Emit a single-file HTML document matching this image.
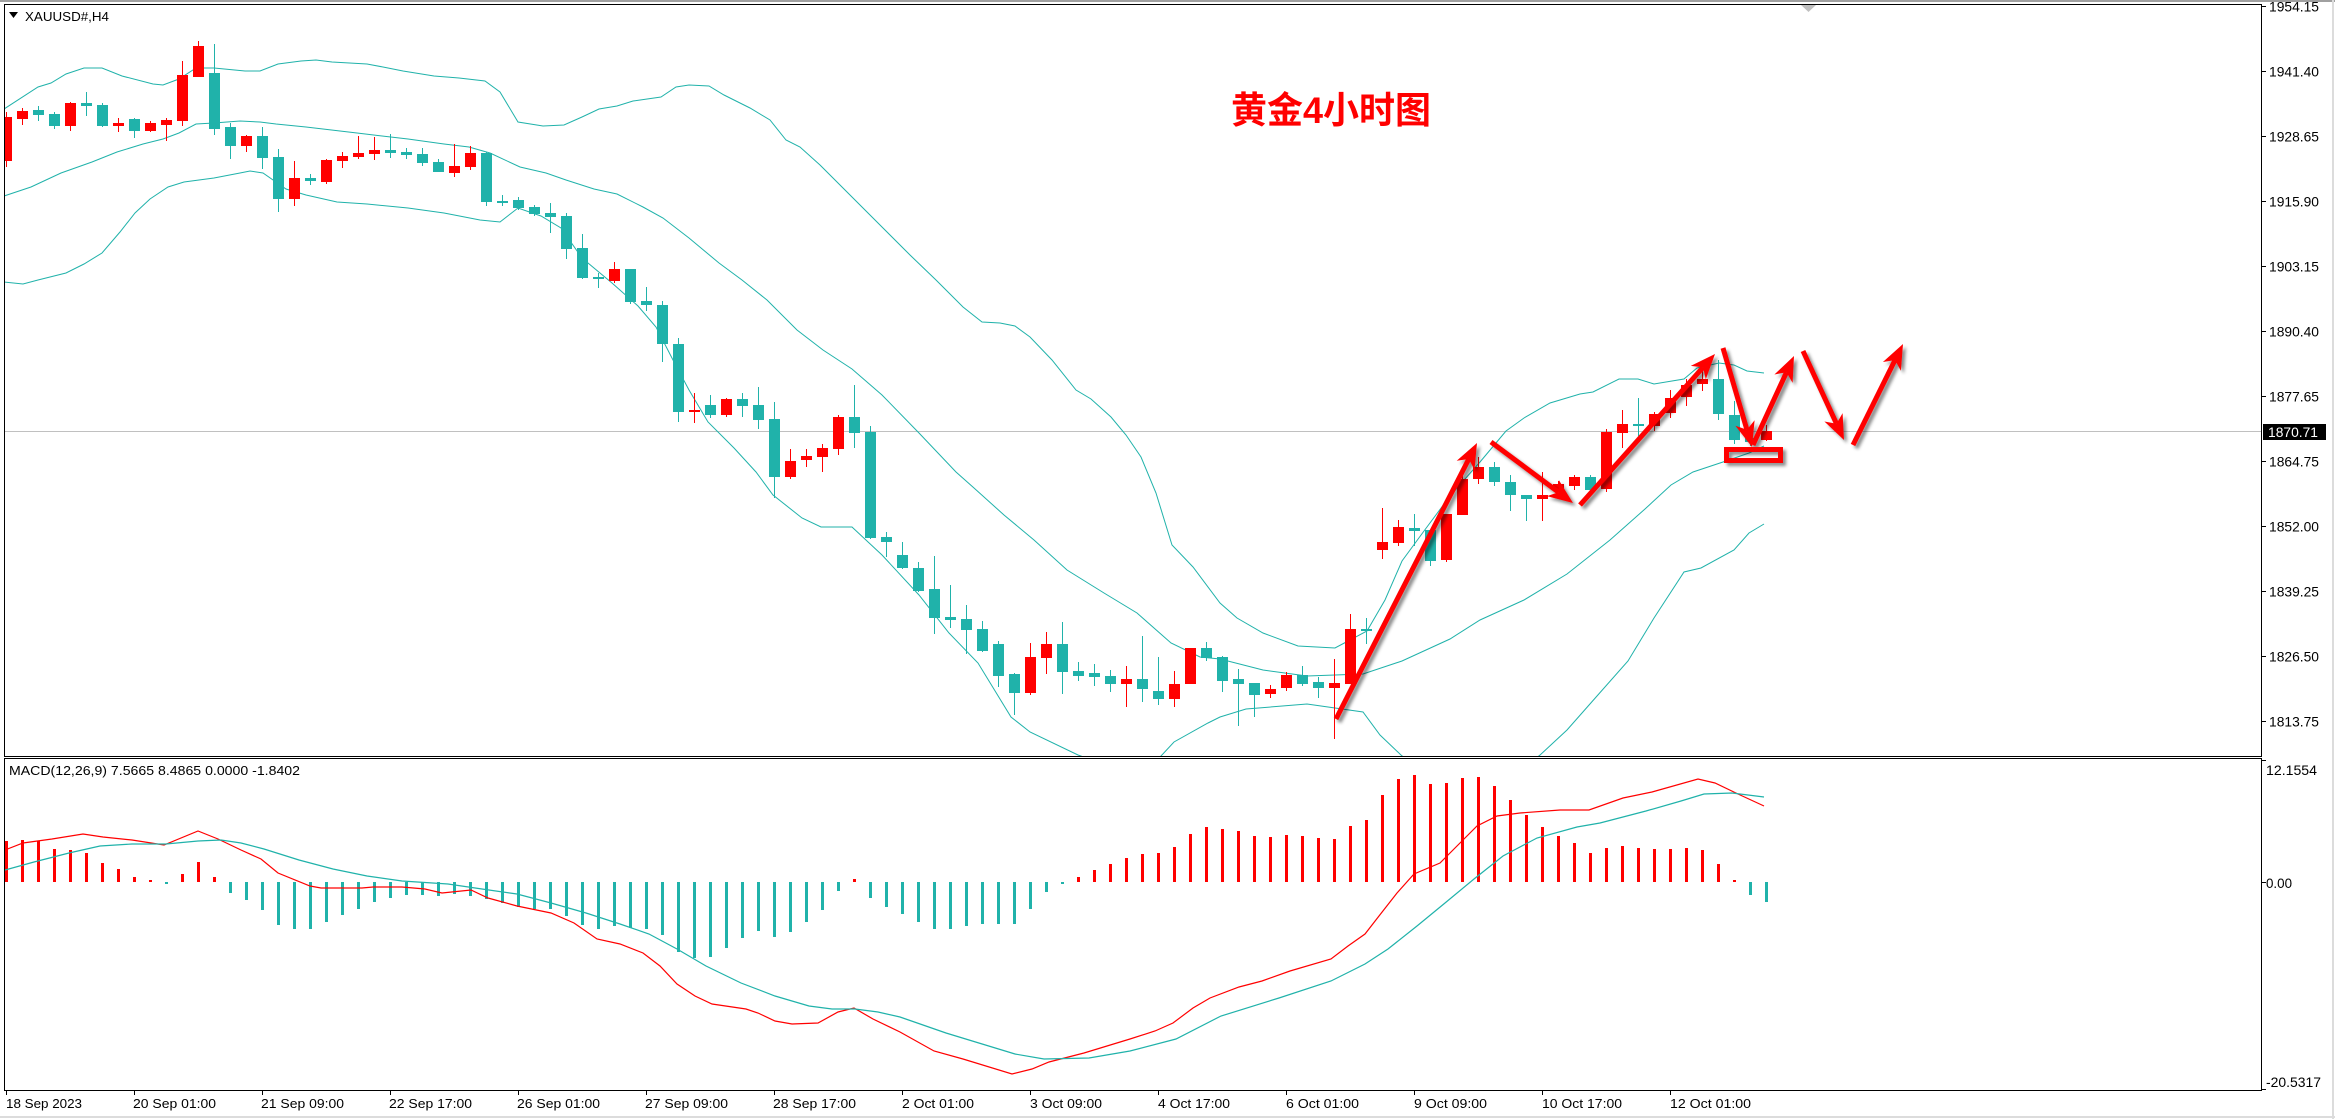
<!DOCTYPE html>
<html><head><meta charset="utf-8">
<style>
html,body{margin:0;padding:0;background:#fff;}
svg{display:block;}
</style></head>
<body>
<svg width="2335" height="1119" viewBox="0 0 2335 1119" xmlns="http://www.w3.org/2000/svg">
<defs>
<clipPath id="cm"><rect x="5" y="5" width="2256" height="751"/></clipPath>
<clipPath id="cd"><rect x="5" y="759" width="2256" height="331"/></clipPath>
<filter id="sh" x="-20%" y="-20%" width="140%" height="140%"><feDropShadow dx="3" dy="3" stdDeviation="1.5" flood-color="#000" flood-opacity="0.45"/></filter>
</defs>
<rect x="0" y="0" width="2335" height="1119" fill="#fff"/>
<rect x="0" y="0" width="2335" height="2" fill="#a0a0a0"/>
<rect x="2332" y="0" width="2" height="1119" fill="#dcdcdc"/>
<rect x="0" y="1116" width="2335" height="2" fill="#dcdcdc"/>
<polygon points="1801,5 1816,5 1808.5,12" fill="#c0c0c0"/>

<!-- frames -->
<rect x="4.5" y="4.5" width="2257" height="752" fill="none" stroke="#000" stroke-width="1"/>
<rect x="4.5" y="758.5" width="2257" height="332" fill="none" stroke="#000" stroke-width="1"/>

<g clip-path="url(#cm)">
<line x1="5" y1="431.5" x2="2261" y2="431.5" stroke="#c0c0c0" stroke-width="1"/>
<g fill="none" stroke="#20b2aa" stroke-width="1">
<polyline points="4,109 38,87 51,83 66,74 84,68 102,68 122,76 153,84 163,85 179,79 196,68 214,68 245,71 260,71 278,64 301,61 316,60 332,62 367,64 383,67 403,71 434,76 459,78 485,81 500,92 518,122 543,126 564,125 582,117 599,109 617,106 633,101 661,97 676,87 689,85 709,86 724,95 750,108 770,120 786,140 800,147 820,165 850,195 880,225 910,255 936,280 963,307 982,322 1000,323 1015,326 1030,337 1052,360 1076,390 1091,399 1111,417 1126,435 1141,457 1156,493 1172,545 1193,567 1220,603 1237,618 1263,633 1298,646 1335,648 1350,640 1367,631 1385,600 1402,561 1424,531 1450,496 1480,462 1506,431 1524,418 1550,403 1580,394 1593,392 1619,379 1638,379 1654,384 1684,379 1697,368 1719,363 1734,365 1747,371 1764,373"/>
<polyline points="4,196 31,187 61,173 92,162 117,152 143,144 163,139 179,133 196,124 214,123 240,121 260,122 276,124 306,127 357,133 408,139 444,144 469,147 490,153 520,167 546,173 566,180 594,189 617,194 643,207 663,218 689,238 719,263 742,280 767,300 797,330 823,350 852,369 882,395 919,433 956,472 974,488 1004,515 1034,540 1067,570 1104,593 1137,613 1171,643 1200,657 1220,659 1263,670 1307,676 1363,674 1402,661 1450,639 1480,620 1524,600 1567,574 1610,540 1645,509 1671,485 1693,472 1723,462 1749,453 1764,446"/>
<polyline points="4,282 23,284 38,280 66,273 84,264 102,253 120,232 135,213 150,199 168,187 184,182 214,178 240,173 250,171 263,173 286,189 306,195 337,202 367,204 408,208 444,213 480,220 500,222 518,208 541,216 561,228 582,258 612,283 638,306 656,327 673,360 689,390 708,422 734,448 756,472 773,495 802,518 821,527 852,527 882,555 919,595 949,633 978,663 1011,717 1030,732 1078,755 1120,770 1150,765 1161,756 1174,742 1208,723 1220,717 1246,709 1307,704 1363,712 1380,735 1402,756 1470,790 1539,756 1567,730 1597,696 1628,661 1654,618 1684,572 1701,568 1734,550 1749,533 1764,524"/>
</g>
<g shape-rendering="crispEdges">
<path stroke="#20b2aa" stroke-width="1" fill="none" d="M38.5 106V121M54.5 112V129M86.5 92V116M102.5 103V127M134.5 118V138M214.5 44V135M230.5 123V159M262.5 127V169M278.5 149V212M310.5 174V185M390.5 134V158M406.5 148V159M422.5 148V166M438.5 159V172M486.5 152V206M502.5 195V206M518.5 197V210M534.5 205V216M550.5 203V233M566.5 213V259M582.5 234V279M598.5 273V288M630.5 269V304M646.5 287V311M662.5 301V362M678.5 338V422M710.5 395V418M742.5 393V417M758.5 387V429M774.5 402V498M854.5 385V448M870.5 426V539M886.5 532V557M902.5 542V569M918.5 562V592M934.5 556V634M950.5 585V628M966.5 605V654M982.5 621V652M998.5 641V687M1014.5 673V715M1062.5 622V694M1078.5 662V681M1094.5 664V686M1110.5 670V692M1142.5 636V702M1158.5 657V705M1206.5 642V661M1222.5 656V692M1238.5 669V726M1254.5 683V717M1302.5 666V686M1318.5 677V698M1366.5 618V644M1414.5 514V546M1430.5 530V566M1494.5 462V486M1510.5 475V511M1526.5 495V521M1590.5 475V490M1638.5 398V436M1718.5 360V420M1734.5 401V444M1750.5 430V446"/>
<path fill="#20b2aa" d="M33 110h11v5h-11zM49 114h11v12h-11zM81 103h11v3h-11zM97 105h11v21h-11zM129 119h11v12h-11zM209 73h11v56h-11zM225 127h11v19h-11zM257 136h11v22h-11zM273 157h11v42h-11zM305 178h11v3h-11zM385 150h11v3h-11zM401 152h11v3h-11zM417 154h11v9h-11zM433 162h11v10h-11zM481 153h11v49h-11zM497 201h11v2h-11zM513 200h11v8h-11zM529 207h11v7h-11zM545 213h11v4h-11zM561 216h11v33h-11zM577 248h11v30h-11zM593 277h11v2h-11zM625 269h11v33h-11zM641 301h11v4h-11zM657 305h11v39h-11zM673 344h11v68h-11zM705 405h11v10h-11zM737 399h11v7h-11zM753 405h11v15h-11zM769 419h11v58h-11zM849 417h11v16h-11zM865 432h11v106h-11zM881 537h11v5h-11zM897 555h11v13h-11zM913 568h11v23h-11zM929 589h11v29h-11zM945 617h11v3h-11zM961 619h11v11h-11zM977 629h11v22h-11zM993 644h11v32h-11zM1009 674h11v19h-11zM1057 644h11v28h-11zM1073 671h11v5h-11zM1089 673h11v4h-11zM1105 676h11v8h-11zM1137 679h11v10h-11zM1153 691h11v8h-11zM1201 648h11v10h-11zM1217 657h11v24h-11zM1233 679h11v5h-11zM1249 683h11v12h-11zM1297 675h11v9h-11zM1313 682h11v6h-11zM1361 629h11v2h-11zM1409 528h11v3h-11zM1425 530h11v31h-11zM1489 467h11v15h-11zM1505 482h11v13h-11zM1521 495h11v4h-11zM1585 477h11v13h-11zM1633 424h11v2h-11zM1713 379h11v35h-11zM1729 415h11v25h-11zM1745 438h11v4h-11z"/>
<path stroke="#ff0000" stroke-width="1" fill="none" d="M6.5 112V167M22.5 108V125M70.5 102V131M118.5 118V132M150.5 121V132M166.5 118V141M182.5 61V126M198.5 41V77M246.5 135V152M294.5 161V206M326.5 159V184M342.5 152V168M358.5 136V159M374.5 137V160M454.5 144V177M470.5 146V170M614.5 262V283M694.5 393V423M726.5 398V417M790.5 449V479M806.5 449V467M822.5 444V472M838.5 415V455M1030.5 643V695M1046.5 632V674M1126.5 666V707M1174.5 671V707M1270.5 685V698M1286.5 672V691M1334.5 659V739M1350.5 614V684M1382.5 508V559M1398.5 520V546M1446.5 514V562M1462.5 470V515M1478.5 457V484M1542.5 472V521M1558.5 481V492M1574.5 475V490M1606.5 429V492M1622.5 410V448M1654.5 412V431M1670.5 390V418M1686.5 379V406M1702.5 371V391M1766.5 425V441"/>
<path fill="#ff0000" d="M1 117h11v44h-11zM17 111h11v8h-11zM65 103h11v23h-11zM113 123h11v3h-11zM145 123h11v8h-11zM161 120h11v5h-11zM177 75h11v46h-11zM193 46h11v31h-11zM241 136h11v10h-11zM289 178h11v21h-11zM321 160h11v22h-11zM337 156h11v5h-11zM353 153h11v4h-11zM369 150h11v4h-11zM449 166h11v7h-11zM465 153h11v14h-11zM609 269h11v12h-11zM689 410h11v2h-11zM721 399h11v16h-11zM785 461h11v16h-11zM801 456h11v4h-11zM817 448h11v9h-11zM833 417h11v32h-11zM1025 657h11v36h-11zM1041 644h11v14h-11zM1121 679h11v5h-11zM1169 684h11v15h-11zM1185 648h11v36h-11zM1265 689h11v5h-11zM1281 675h11v13h-11zM1329 683h11v5h-11zM1345 629h11v55h-11zM1377 542h11v8h-11zM1393 527h11v16h-11zM1441 514h11v46h-11zM1457 479h11v36h-11zM1473 467h11v12h-11zM1537 495h11v4h-11zM1553 484h11v6h-11zM1569 477h11v9h-11zM1601 432h11v57h-11zM1617 424h11v9h-11zM1649 414h11v12h-11zM1665 398h11v15h-11zM1681 385h11v12h-11zM1697 379h11v5h-11zM1761 431h11v9h-11z"/>
</g>

<!-- annotations -->
<g filter="url(#sh)">
<g stroke="#ff0000" stroke-width="5" fill="none" stroke-linecap="butt">
<line x1="1336" y1="719" x2="1468.8" y2="459"/>
<line x1="1491" y1="442" x2="1558.6" y2="492.3"/>
<line x1="1580" y1="505" x2="1703" y2="367.4"/>
<line x1="1723" y1="348" x2="1746.9" y2="429.7"/>
<line x1="1753" y1="445" x2="1786.5" y2="372.3"/>
<line x1="1803" y1="351" x2="1836.5" y2="423.7"/>
<line x1="1853" y1="445" x2="1895" y2="360.1"/>
</g>
<g fill="#ff0000">
<polygon points="1477,443 1474.5,469.8 1468.8,459 1456.7,460.8"/>
<polygon points="1573,503 1546.9,496.1 1558.6,492.3 1558.9,480.1"/>
<polygon points="1715,354 1705.8,379.3 1703,367.4 1690.8,365.9"/>
<polygon points="1752,447 1735.4,425.8 1746.9,429.7 1754.6,420.2"/>
<polygon points="1794,356 1792.6,382.9 1786.5,372.3 1774.4,374.5"/>
<polygon points="1844,440 1824.4,421.5 1836.5,423.7 1842.6,413.1"/>
<polygon points="1903,344 1900.9,370.8 1895,360.1 1882.9,362"/>
</g>
<rect x="1726.5" y="449.5" width="54" height="11" fill="none" stroke="#ff0000" stroke-width="5"/>
</g>
</g>

<text x="1231" y="123" font-family="'Liberation Sans','Noto Sans CJK SC',sans-serif" font-weight="bold" font-size="37" fill="#ff0000" textLength="200" lengthAdjust="spacingAndGlyphs">黄金4小时图</text>

<!-- header -->
<polygon points="9,12 18,12 13.5,18" fill="#000"/>
<text x="25" y="21" font-family="'Liberation Sans',sans-serif" font-size="13" fill="#000" textLength="84" lengthAdjust="spacingAndGlyphs">XAUUSD#,H4</text>

<!-- MACD -->
<g clip-path="url(#cd)">
<g shape-rendering="crispEdges">
<path fill="#ff0000" d="M5 841h3v41h-3zM21 840h3v42h-3zM37 841h3v41h-3zM53 849h3v33h-3zM69 850h3v32h-3zM85 853h3v29h-3zM101 863h3v19h-3zM117 869h3v13h-3zM133 877h3v5h-3zM149 880h3v2h-3zM181 874h3v8h-3zM197 862h3v20h-3zM213 877h3v5h-3zM853 879h3v3h-3zM1077 877h3v5h-3zM1093 870h3v12h-3zM1109 864h3v18h-3zM1125 858h3v24h-3zM1141 854h3v28h-3zM1157 853h3v29h-3zM1173 847h3v35h-3zM1189 834h3v48h-3zM1205 827h3v55h-3zM1221 829h3v53h-3zM1237 831h3v51h-3zM1253 836h3v46h-3zM1269 837h3v45h-3zM1285 835h3v47h-3zM1301 836h3v46h-3zM1317 838h3v44h-3zM1333 839h3v43h-3zM1349 826h3v56h-3zM1365 820h3v62h-3zM1381 795h3v87h-3zM1397 779h3v103h-3zM1413 775h3v107h-3zM1429 784h3v98h-3zM1445 783h3v99h-3zM1461 778h3v104h-3zM1477 777h3v105h-3zM1493 786h3v96h-3zM1509 800h3v82h-3zM1525 815h3v67h-3zM1541 827h3v55h-3zM1557 836h3v46h-3zM1573 843h3v39h-3zM1589 853h3v29h-3zM1605 848h3v34h-3zM1621 846h3v36h-3zM1637 848h3v34h-3zM1653 849h3v33h-3zM1669 849h3v33h-3zM1685 848h3v34h-3zM1701 850h3v32h-3zM1717 864h3v18h-3zM1733 880h3v2h-3z"/>
<path fill="#20b2aa" d="M165 882h3v2h-3zM229 882h3v11h-3zM245 882h3v18h-3zM261 882h3v28h-3zM277 882h3v43h-3zM293 882h3v47h-3zM309 882h3v47h-3zM325 882h3v40h-3zM341 882h3v33h-3zM357 882h3v27h-3zM373 882h3v20h-3zM389 882h3v16h-3zM405 882h3v13h-3zM421 882h3v13h-3zM437 882h3v14h-3zM453 882h3v12h-3zM469 882h3v14h-3zM485 882h3v17h-3zM501 882h3v21h-3zM517 882h3v25h-3zM533 882h3v27h-3zM549 882h3v27h-3zM565 882h3v34h-3zM581 882h3v43h-3zM597 882h3v47h-3zM613 882h3v44h-3zM629 882h3v46h-3zM645 882h3v47h-3zM661 882h3v53h-3zM677 882h3v70h-3zM693 882h3v76h-3zM709 882h3v75h-3zM725 882h3v66h-3zM741 882h3v56h-3zM757 882h3v49h-3zM773 882h3v55h-3zM789 882h3v50h-3zM805 882h3v40h-3zM821 882h3v28h-3zM837 882h3v9h-3zM869 882h3v16h-3zM885 882h3v25h-3zM901 882h3v32h-3zM917 882h3v40h-3zM933 882h3v47h-3zM949 882h3v47h-3zM965 882h3v44h-3zM981 882h3v42h-3zM997 882h3v42h-3zM1013 882h3v42h-3zM1029 882h3v27h-3zM1045 882h3v10h-3zM1061 882h3v2h-3zM1749 882h3v13h-3zM1765 882h3v20h-3z"/>
</g>
<polyline fill="none" stroke="#ff0000" stroke-width="1.2" points="5,850 23,843 52,839 83,834 103,837 132,840 164,845 198,831 218,839 241,850 261,859 278,873 310,886 321,888 362,888 373,887 402,887 425,889 442,893 471,890 488,898 517,906 551,913 574,923 597,939 620,944 643,953 660,966 677,984 695,996 712,1004 746,1009 758,1013 775,1021 792,1024 818,1023 838,1012 854,1008 873,1019 900,1032 934,1051 963,1059 1012,1074 1032,1069 1049,1062 1084,1053 1130,1039 1155,1031 1173,1023 1193,1008 1210,998 1239,987 1262,981 1290,971 1331,959 1348,946 1365,934 1379,916 1397,893 1414,874 1440,863 1460,843 1477,826 1497,816 1520,813 1560,810 1589,810 1623,798 1652,792 1698,779 1715,783 1738,794 1764,806"/>
<polyline fill="none" stroke="#20b2aa" stroke-width="1.2" points="5,870 34,862 69,853 100,846 132,844 166,844 198,841 221,840 241,843 264,849 299,860 333,869 367,876 402,881 448,884 482,889 517,894 551,903 586,913 620,924 649,934 677,949 706,966 741,983 775,996 809,1006 832,1009 855,1009 878,1012 900,1017 946,1033 1015,1054 1044,1059 1089,1058 1130,1051 1176,1039 1221,1016 1279,998 1331,981 1365,964 1388,949 1417,926 1445,903 1474,879 1503,856 1537,838 1577,827 1600,823 1646,811 1681,801 1704,794 1732,793 1764,797"/>
</g>
<text x="9" y="775" font-family="'Liberation Sans',sans-serif" font-size="13" fill="#000" textLength="291" lengthAdjust="spacingAndGlyphs">MACD(12,26,9) 7.5665 8.4865 0.0000 -1.8402</text>

<!-- price axis -->
<g stroke="#000" stroke-width="1" shape-rendering="crispEdges">
<path d="M2262 6.5h4M2262 71.5h4M2262 136.5h4M2262 201.5h4M2262 266.5h4M2262 331.5h4M2262 396.5h4M2262 461.5h4M2262 526.5h4M2262 591.5h4M2262 656.5h4M2262 721.5h4M2262 760.5h4M2262 882.5h4M2262 1089.5h4"/>
</g>
<g font-family="'Liberation Sans',sans-serif" font-size="14" fill="#000" lengthAdjust="spacingAndGlyphs">
<text x="2269" y="11.5" textLength="50" lengthAdjust="spacingAndGlyphs">1954.15</text>
<text x="2269" y="76.5" textLength="50" lengthAdjust="spacingAndGlyphs">1941.40</text>
<text x="2269" y="141.5" textLength="50" lengthAdjust="spacingAndGlyphs">1928.65</text>
<text x="2269" y="206.5" textLength="50" lengthAdjust="spacingAndGlyphs">1915.90</text>
<text x="2269" y="271.5" textLength="50" lengthAdjust="spacingAndGlyphs">1903.15</text>
<text x="2269" y="336.5" textLength="50" lengthAdjust="spacingAndGlyphs">1890.40</text>
<text x="2269" y="401.5" textLength="50" lengthAdjust="spacingAndGlyphs">1877.65</text>
<text x="2269" y="466.5" textLength="50" lengthAdjust="spacingAndGlyphs">1864.75</text>
<text x="2269" y="531.5" textLength="50" lengthAdjust="spacingAndGlyphs">1852.00</text>
<text x="2269" y="596.5" textLength="50" lengthAdjust="spacingAndGlyphs">1839.25</text>
<text x="2269" y="661.5" textLength="50" lengthAdjust="spacingAndGlyphs">1826.50</text>
<text x="2269" y="726.5" textLength="50" lengthAdjust="spacingAndGlyphs">1813.75</text>
<text x="2266" y="775" textLength="51" lengthAdjust="spacingAndGlyphs">12.1554</text>
<text x="2266" y="888" textLength="26" lengthAdjust="spacingAndGlyphs">0.00</text>
<text x="2266" y="1087" textLength="55" lengthAdjust="spacingAndGlyphs">-20.5317</text>
</g>
<rect x="2263" y="424" width="63" height="16" fill="#000"/>
<text x="2268" y="437" font-family="'Liberation Sans',sans-serif" font-size="14" fill="#fff" textLength="50" lengthAdjust="spacingAndGlyphs">1870.71</text>

<!-- time axis -->
<g stroke="#000" stroke-width="1" shape-rendering="crispEdges">
<path d="M6.5 1090v5M134.5 1090v5M262.5 1090v5M390.5 1090v5M518.5 1090v5M646.5 1090v5M774.5 1090v5M902.5 1090v5M1030.5 1090v5M1158.5 1090v5M1286.5 1090v5M1414.5 1090v5M1542.5 1090v5M1670.5 1090v5"/>
</g>
<g font-family="'Liberation Sans',sans-serif" font-size="13" fill="#000">
<text x="6" y="1108" textLength="76" lengthAdjust="spacingAndGlyphs">18 Sep 2023</text>
<text x="133" y="1108" textLength="83" lengthAdjust="spacingAndGlyphs">20 Sep 01:00</text>
<text x="261" y="1108" textLength="83" lengthAdjust="spacingAndGlyphs">21 Sep 09:00</text>
<text x="389" y="1108" textLength="83" lengthAdjust="spacingAndGlyphs">22 Sep 17:00</text>
<text x="517" y="1108" textLength="83" lengthAdjust="spacingAndGlyphs">26 Sep 01:00</text>
<text x="645" y="1108" textLength="83" lengthAdjust="spacingAndGlyphs">27 Sep 09:00</text>
<text x="773" y="1108" textLength="83" lengthAdjust="spacingAndGlyphs">28 Sep 17:00</text>
<text x="902" y="1108" textLength="72" lengthAdjust="spacingAndGlyphs">2 Oct 01:00</text>
<text x="1030" y="1108" textLength="72" lengthAdjust="spacingAndGlyphs">3 Oct 09:00</text>
<text x="1158" y="1108" textLength="72" lengthAdjust="spacingAndGlyphs">4 Oct 17:00</text>
<text x="1286" y="1108" textLength="73" lengthAdjust="spacingAndGlyphs">6 Oct 01:00</text>
<text x="1414" y="1108" textLength="73" lengthAdjust="spacingAndGlyphs">9 Oct 09:00</text>
<text x="1542" y="1108" textLength="80" lengthAdjust="spacingAndGlyphs">10 Oct 17:00</text>
<text x="1670" y="1108" textLength="81" lengthAdjust="spacingAndGlyphs">12 Oct 01:00</text>
</g>
</svg>
</body></html>
